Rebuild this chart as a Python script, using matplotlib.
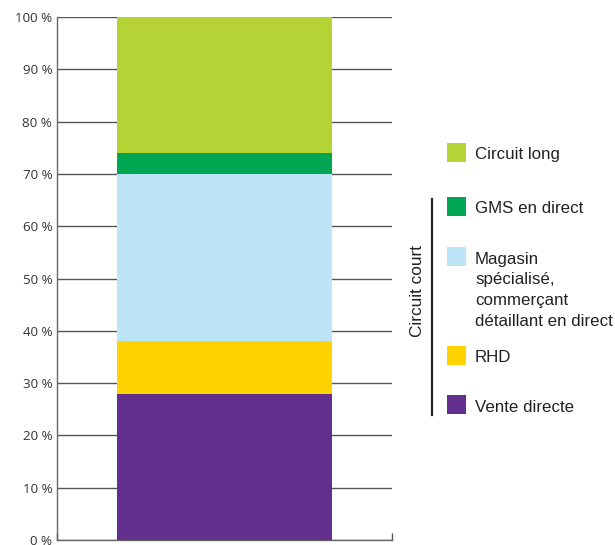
import matplotlib
matplotlib.use("Agg")
import matplotlib.pyplot as plt
from matplotlib.patches import Rectangle
from matplotlib.lines import Line2D

categories = ["Vente directe", "RHD", "Magasin\nspécialisé,\ncommerçant\ndétaillant en direct", "GMS en direct", "Circuit long"]
values = [28, 10, 32, 4, 26]
colors = ["#622F8F", "#FFD200", "#BDE5F8", "#00A651", "#B5D334"]
yticks = list(range(0, 101, 10))
ytick_labels = [f"{v} %" for v in yticks]
group_label = "Circuit court"

W, H = 615, 545
fig = plt.figure(figsize=(W / 100, H / 100), dpi=100)
ax = fig.add_axes([57 / W, 5 / H, 335 / W, 523 / H])

bottom = 0
for v, c in zip(values, colors):
    ax.bar(0.5, v, width=0.64, bottom=bottom, color=c, zorder=3, linewidth=0)
    bottom += v

ax.set_xlim(0, 1)
ax.set_ylim(0, 100)
ax.set_yticks(yticks)
ax.set_yticklabels(ytick_labels, fontfamily="Open Sans", fontsize=9.6, color="#333333")
ax.tick_params(axis="y", length=0, pad=3.5)
ax.set_xticks([0, 1])
ax.tick_params(axis="x", direction="in", length=5, width=1, color="#555555", labelbottom=False)
ax.grid(axis="y", color="#555555", linewidth=1, zorder=1)
for s in ["top", "right"]:
    ax.spines[s].set_visible(False)
for s in ["left", "bottom"]:
    ax.spines[s].set_color("#666666")
    ax.spines[s].set_linewidth(1)

# Legend (manual), pixel positions from top
def fx(px):
    return px / W

def fy(py):
    return 1 - py / H

sq = 19
line_h = 20.7
legend_items = [
    (4, 143),
    (3, 197),
    (2, 247),
    (1, 346),
    (0, 395),
]
for idx, top in legend_items:
    fig.patches.append(Rectangle((fx(447), fy(top + sq)), sq / W, sq / H,
                                 transform=fig.transFigure, color=colors[idx], linewidth=0))
    for k, line in enumerate(categories[idx].split("\n")):
        fig.text(fx(475), fy(top + 16.5 + k * line_h), line, ha="left", va="baseline",
                 fontfamily="Liberation Sans", fontsize=12.2, color="#222222")

fig.lines.append(Line2D([fx(431.5), fx(431.5)], [fy(199), fy(415)], transform=fig.transFigure,
                        color="#222222", linewidth=1.6))
fig.text(fx(417.5), fy(291), group_label, rotation=90, ha="center", va="center",
         fontfamily="Liberation Sans", fontsize=12.4, color="#222222")

fig.savefig("out.png", dpi=100)
